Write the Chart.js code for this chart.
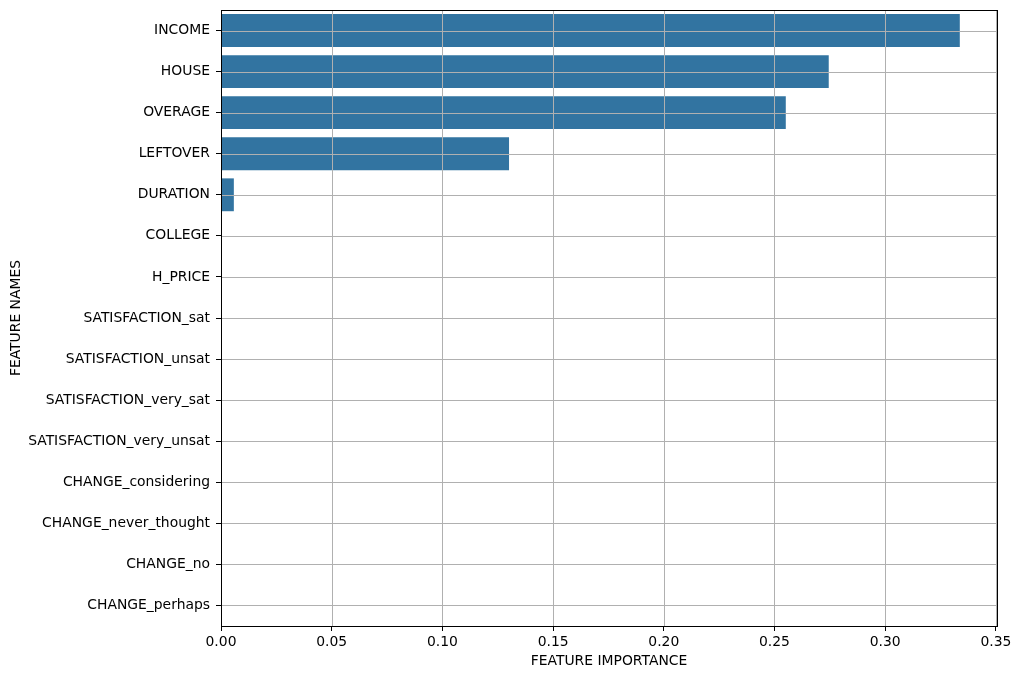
<!DOCTYPE html>
<html>
<head>
<meta charset="utf-8">
<script src="https://cdn.jsdelivr.net/npm/chart.js@4"></script>
<style>
  html, body { margin: 0; padding: 0; background: #fff; }
  #wrap { width: 1019px; height: 679px; }
</style>
</head>
<body>
<div id="wrap"><canvas id="chart" width="1019" height="679"></canvas></div>
<script>
const featureNames = [
  "INCOME", "HOUSE", "OVERAGE", "LEFTOVER", "DURATION", "COLLEGE", "H_PRICE",
  "SATISFACTION_sat", "SATISFACTION_unsat", "SATISFACTION_very_sat",
  "SATISFACTION_very_unsat", "CHANGE_considering", "CHANGE_never_thought",
  "CHANGE_no", "CHANGE_perhaps"
];
const importance = [0.3337, 0.2745, 0.2551, 0.1301, 0.0058, 0, 0, 0, 0, 0, 0, 0, 0, 0, 0];
const xTickStep = 0.05;
const xMax = 0.3505;

const font = { family: "'DejaVu Sans', sans-serif", size: 13.9 };

// matplotlib draws the grid above the bars, so do it after the datasets
const gridOnTop = {
  id: "gridOnTop",
  afterDatasetsDraw(chart) {
    const { ctx, chartArea, scales } = chart;
    const x = scales.x;
    const y = scales.y;
    ctx.save();
    ctx.strokeStyle = "#b0b0b0";
    ctx.lineWidth = 1;
    ctx.beginPath();
    x.ticks.forEach((t) => {
      const px = Math.round(x.getPixelForValue(t.value)) + 0.5;
      ctx.moveTo(px, chartArea.top);
      ctx.lineTo(px, chartArea.bottom);
    });
    y.ticks.forEach((t, i) => {
      const py = Math.round(y.getPixelForTick(i)) + 0.5;
      ctx.moveTo(chartArea.left, py);
      ctx.lineTo(chartArea.right, py);
    });
    ctx.stroke();
    ctx.strokeStyle = "#000";
    ctx.strokeRect(
      Math.round(chartArea.left) + 0.5,
      Math.round(chartArea.top) + 0.5,
      Math.round(chartArea.width),
      Math.round(chartArea.height)
    );
    ctx.restore();
  },
};

new Chart(document.getElementById("chart"), {
  type: "bar",
  data: {
    labels: featureNames,
    datasets: [
      {
        data: importance,
        backgroundColor: "#3274a1",
        borderWidth: 0,
        barPercentage: 0.8,
        categoryPercentage: 1,
      },
    ],
  },
  options: {
    indexAxis: "y",
    responsive: false,
    animation: false,
    devicePixelRatio: 1,
    layout: { padding: { top: 10, right: 22, left: 0, bottom: 0 } },
    plugins: { legend: { display: false }, tooltip: { enabled: false } },
    scales: {
      x: {
        min: 0,
        max: xMax,
        afterFit: (s) => { s.height = 53; },
        ticks: {
          stepSize: xTickStep,
          includeBounds: false,
          color: "#000",
          font: font,
          padding: 3,
          maxRotation: 0,
          callback: (v) => Number(v).toFixed(2),
        },
        grid: { drawOnChartArea: false, tickColor: "#000", tickLength: 5 },
        border: { display: false },
        title: {
          display: true,
          text: "FEATURE IMPORTANCE",
          color: "#000",
          font: font,
          padding: { top: 0, bottom: 9 },
        },
      },
      y: {
        afterFit: (s) => {
          s.width = 221;
          s.paddingTop = 0;
          s.paddingBottom = 0;
        },
        ticks: { color: "#000", font: font, padding: 6, autoSkip: false },
        grid: { drawOnChartArea: false, offset: false, tickColor: "#000", tickLength: 5 },
        border: { display: false },
        title: {
          display: true,
          text: "FEATURE NAMES",
          color: "#000",
          font: font,
          padding: { top: 8, bottom: 0 },
        },
      },
    },
  },
  plugins: [gridOnTop],
});
</script>
</body>
</html>
